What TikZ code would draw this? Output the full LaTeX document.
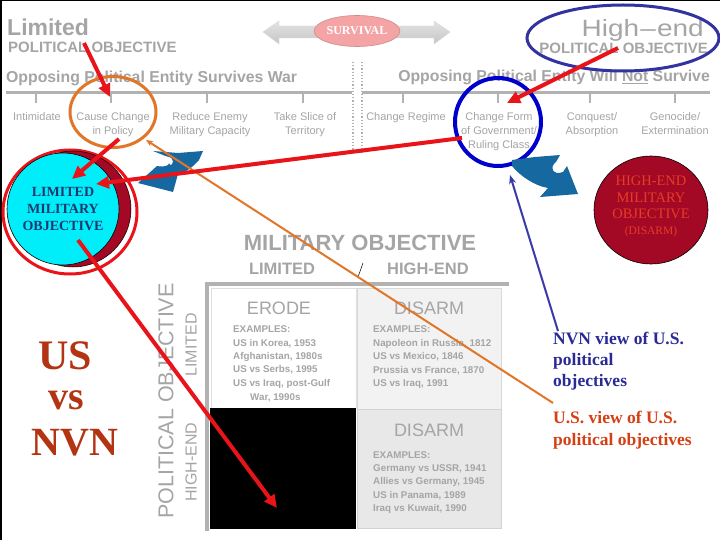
\documentclass[tikz,border=0pt]{standalone}
\usepackage{fontspec}
\setmainfont{Liberation Serif}
\setsansfont{Liberation Sans}
\usetikzlibrary{arrows.meta,shapes.geometric}
\definecolor{gtxt}{RGB}{165,165,165}
\definecolor{gline}{RGB}{178,178,178}
\definecolor{redarr}{RGB}{232,20,26}
\definecolor{orarr}{RGB}{226,118,40}
\definecolor{blline}{RGB}{58,58,168}
\definecolor{blring}{RGB}{0,0,205}
\definecolor{navyring}{RGB}{50,50,160}
\definecolor{flagblue}{RGB}{22,104,160}
\definecolor{darkred}{RGB}{163,8,36}
\definecolor{hitxt}{RGB}{232,60,40}
\definecolor{limtxt}{RGB}{30,56,110}
\definecolor{limcyan}{RGB}{0,238,250}
\definecolor{rust}{RGB}{178,52,18}
\definecolor{nvnblue}{RGB}{42,42,150}
\definecolor{usred}{RGB}{212,64,20}
\definecolor{survpink}{RGB}{244,164,164}
\begin{document}
\begin{tikzpicture}[x=1pt,y=-1pt,
  gt/.style={text=gtxt, inner sep=0pt, font=\sffamily},
  lbl/.style={text=gtxt, inner sep=0pt, anchor=north, align=center, font=\sffamily\fontsize{11}{14}\selectfont},
  ex/.style={text=gtxt, inner sep=0pt, anchor=base west, font=\sffamily\bfseries\fontsize{9.8}{12}\selectfont},
  redarrow/.style={draw=redarr, line width=4pt, -{Triangle[length=13pt,width=12pt]}},
  tick/.style={draw=gline, line width=1.3pt}
]
\useasboundingbox (0,0) rectangle (720,540);
\fill[white] (0,0) rectangle (720,540);
\draw[black, line width=3pt] (0,540) -- (0,0) -- (720,0);

% ---- top headings
\node[gt, anchor=base west, font=\sffamily\bfseries\fontsize{23}{25}\selectfont] (limited) at (7,36) {Limited};
\node[gt, anchor=base west, font=\sffamily\bfseries\fontsize{15}{17}\selectfont] (polL) at (8,53) {POLITICAL OBJECTIVE};
\node[gt, anchor=base east, font=\sffamily\fontsize{23.5}{26}\selectfont] (highend) at (704,37) {\scalebox{1.19}[1]{High\kern1pt–\kern1pt end}};
\node[gt, anchor=base east, font=\sffamily\bfseries\fontsize{15}{17}\selectfont] (polR) at (708,54) {POLITICAL OBJECTIVE};
\node[gt, anchor=base west, font=\sffamily\bfseries\fontsize{15.8}{19}\selectfont] (survL) at (6,83) {Opposing Political Entity Survives War};
\node[gt, anchor=base east, font=\sffamily\bfseries\fontsize{15.8}{19}\selectfont] (survR) at (710,82) {Opposing Political Entity Will \underline{Not} Survive};

% ---- survival double arrow
\shade[top color=gray!22, bottom color=gray!45, draw=gray!30]
  (263,32) -- (279,21) -- (279,26) -- (434,26) -- (434,21) -- (450,32) -- (434,44) -- (434,38) -- (279,38) -- (279,44) -- cycle;
\node[ellipse, fill=survpink, draw=survpink!85!black, line width=0.6pt, minimum width=80pt, minimum height=31pt, inner sep=0pt,
  text=white, font=\fontsize{12}{14}\selectfont\bfseries] (surv) at (357,31) {SURVIVAL};

% ---- scale line
\draw[gline, line width=3pt] (6,93) -- (352,93);
\draw[gline, line width=3pt] (362,93) -- (710,93);
\foreach \x in {36,111,207,303,403,498,590,675} \draw[tick] (\x,93) -- (\x,103);
\draw[gline, line width=1.2pt, dotted] (353,62) -- (353,152);
\draw[gline, line width=1.2pt, dotted] (362,62) -- (362,152);

% ---- row labels
\node[lbl] (l1) at (37,112) {Intimidate};
\node[lbl] (l2) at (113,112) {Cause Change\\in Policy};
\node[lbl] (l3) at (210,112) {Reduce Enemy\\Military Capacity};
\node[lbl] (l4) at (305,112) {Take Slice of\\Territory};
\node[lbl] (l5) at (406,112) {Change Regime};
\node[lbl] (l6) at (499,112) {Change Form\\of Government/\\Ruling Class};
\node[lbl] (l7) at (592,112) {Conquest/\\Absorption};
\node[lbl] (l8) at (675,112) {Genocide/\\Extermination};

% ---- rings
\node[ellipse, draw=orarr, line width=3pt, minimum width=86pt, minimum height=71pt] (orring) at (113,112) {};
\node[ellipse, draw=blring, line width=4pt, minimum width=86pt, minimum height=88pt] (blring) at (498,122) {};
\node[ellipse, draw=navyring, line width=3pt, minimum width=192pt, minimum height=66pt] (hiring) at (623,38) {};

% ---- blue clip-art arrows
\fill[flagblue] (153,151) -- (178,153) -- (203,151) -- (199,160) .. controls (192,168) and (186,172) .. (178,174)
  -- (173,192) -- (138,183) -- (157,166) .. controls (166,168) and (174,164) .. (168,157) -- cycle;
\fill[white] (162,157) .. controls (170,155) and (176,160) .. (171,165) .. controls (168,162) and (165,160) .. (162,157) -- cycle;
\fill[flagblue] (512,160) -- (535,157) -- (560,155) -- (556,162) .. controls (549,167) and (553,176) .. (563,172)
  -- (567,166) -- (578,194) -- (540,197) -- (548,188) .. controls (535,186) and (520,176) .. (512,166) -- cycle;

% ---- military objective circles
\draw[redarr, line width=3pt] (70,212) ellipse [x radius=67pt, y radius=62pt];
\fill[darkred, draw=black, line width=0.5pt] (73,209) circle [radius=58pt];
\node[circle, fill=limcyan, draw=black, line width=0.6pt, minimum size=112pt, inner sep=0pt] (limc) at (63,209) {};
\node[text=limtxt, align=center, font=\bfseries\fontsize{14}{17}\selectfont, inner sep=0pt] (limtext) at (63,209) {LIMITED\\MILITARY\\OBJECTIVE};
\node[ellipse, fill=darkred, draw=black, line width=0.6pt, minimum width=114pt, minimum height=108pt, inner sep=0pt] (hic) at (651,210) {};
\node[text=hitxt, align=center, inner sep=0pt, anchor=north, font=\fontsize{14.5}{16.5}\selectfont] (hitext) at (651,176)
  {HIGH-END\\MILITARY\\OBJECTIVE\\[-1pt]{\fontsize{11.5}{13}\selectfont (DISARM)}};

% ---- matrix
\node[gt, anchor=base, font=\sffamily\bfseries\fontsize{22}{24}\selectfont] (milobj) at (360,250) {MILITARY OBJECTIVE};
\node[gt, anchor=base, font=\sffamily\bfseries\fontsize{16.5}{18}\selectfont] (mlim) at (282,274) {LIMITED};
\node[gt, anchor=base, font=\sffamily\bfseries\fontsize{16.5}{18}\selectfont] (mhigh) at (428,274) {HIGH-END};
\draw[black, line width=0.5pt] (358,277) -- (363,263);
\draw[draw=gray!25, fill=white] (211,288) rectangle (356,408);
\draw[draw=gray!30, fill=gray!10] (357,288) rectangle (501,409);
\fill[black] (210,408) rectangle (356,529);
\draw[draw=gray!35, fill=gray!18] (357,409) rectangle (501,528);
\draw[gline, line width=4pt] (205,284) -- (509,284);
\draw[gline, line width=4pt] (207,282) -- (207,531);
\node[gt, anchor=base, font=\sffamily\fontsize{18}{20}\selectfont] (erode) at (279,314) {ERODE};
\node[gt, anchor=base, font=\sffamily\fontsize{18}{20}\selectfont] (dis1) at (429,314) {DISARM};
\node[gt, anchor=base, font=\sffamily\fontsize{18}{20}\selectfont] (dis2) at (429,436) {DISARM};
\node[ex] (e1) at (233,332) {EXAMPLES:};
\node[ex] (e2) at (233,346) {US in Korea, 1953};
\node[ex] (e3) at (233,359) {Afghanistan, 1980s};
\node[ex] (e4) at (233,372) {US vs Serbs, 1995};
\node[ex] (e5) at (233,386) {US vs Iraq, post-Gulf};
\node[ex] (e6) at (250,400) {War, 1990s};
\node[ex] (f1) at (373,332) {EXAMPLES:};
\node[ex] (f2) at (373,346) {Napoleon in Russia, 1812};
\node[ex] (f3) at (373,359) {US vs Mexico, 1846};
\node[ex] (f4) at (373,373) {Prussia vs France, 1870};
\node[ex] (f5) at (373,386) {US vs Iraq, 1991};
\node[ex] (g1) at (373,458) {EXAMPLES:};
\node[ex] (g2) at (373,471) {Germany vs USSR, 1941};
\node[ex] (g3) at (373,484) {Allies vs Germany, 1945};
\node[ex] (g4) at (373,498) {US in Panama, 1989};
\node[ex] (g5) at (373,511) {Iraq vs Kuwait, 1990};
\node[gt, rotate=90, anchor=center, font=\sffamily\fontsize{21.5}{23}\selectfont] (polobj) at (166,401) {POLITICAL OBJECTIVE};
\node[gt, rotate=90, anchor=center, font=\sffamily\fontsize{16}{18}\selectfont] (plim) at (191,345) {LIMITED};
\node[gt, rotate=90, anchor=center, font=\sffamily\fontsize{16}{18}\selectfont] (phigh) at (191,462) {HIGH-END};

% ---- US vs NVN
\node[text=rust, anchor=base, inner sep=0pt, font=\bfseries\fontsize{42}{44}\selectfont] (us) at (65,369) {US};
\node[text=rust, anchor=base, inner sep=0pt, font=\bfseries\fontsize{40}{44}\selectfont] (vs) at (66,409) {vs};
\node[text=rust, anchor=base, inner sep=0pt, font=\bfseries\fontsize{40}{44}\selectfont] (nvn) at (75,455) {NVN};

% ---- right notes
\node[text=nvnblue, anchor=north west, align=left, inner sep=0pt, font=\bfseries\fontsize{17.5}{21}\selectfont] (nvnview) at (553,332)
  {NVN view of U.S.\\political\\objectives};
\node[text=usred, anchor=north west, align=left, inner sep=0pt, font=\bfseries\fontsize{17.5}{21.5}\selectfont] (usview) at (553,411)
  {U.S. view of U.S.\\political objectives};

% ---- connectors
\coordinate (a1s) at (84,43);  \coordinate (a1e) at (110,97);
\coordinate (a2s) at (618,48); \coordinate (a2e) at (507,103);
\coordinate (a3s) at (119,139); \coordinate (a3e) at (72,179);
\coordinate (a4s) at (462,138); \coordinate (a4e) at (96,184);
\coordinate (a5s) at (78,240); \coordinate (a5e) at (277,508);
\coordinate (os) at (553,403); \coordinate (oe) at (146,140);
\coordinate (bs) at (558,331); \coordinate (be) at (510,175);
\draw[orarr, line width=2pt, -{Stealth[length=7pt,width=6pt]}] (os) -- (oe);
\draw[blline, line width=2pt, -{Stealth[length=9pt,width=7pt]}] (bs) -- (be);
\draw[redarrow] (a1s) -- (a1e);
\draw[redarrow] (a2s) -- (a2e);
\draw[redarrow] (a3s) -- (a3e);
\draw[redarrow] (a4s) -- (a4e);
\draw[redarrow] (a5s) -- (a5e);
\end{tikzpicture}
\end{document}
